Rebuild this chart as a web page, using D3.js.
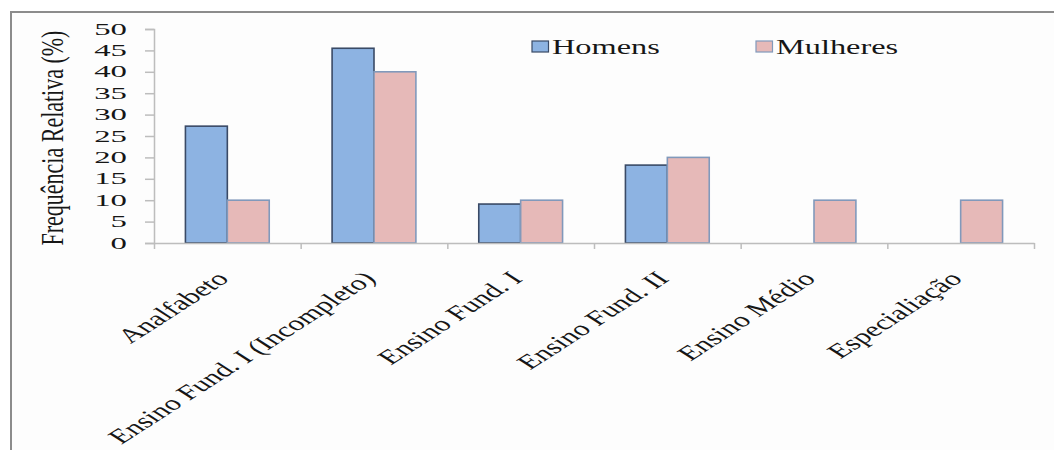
<!DOCTYPE html>
<html>
<head>
<meta charset="utf-8">
<script src="https://cdn.jsdelivr.net/npm/d3@7"></script>
<style>
  html, body { margin: 0; padding: 0; background: #ffffff; }
  svg { display: block; }
  text { font-family: "Liberation Serif", "Times New Roman", serif; fill: #161616; }
</style>
</head>
<body>
<svg id="chart" width="1054" height="450"></svg>
<script>
// Education level by sex, relative frequency (%)
const categories = [
  "Analfabeto",
  "Ensino Fund. I (Incompleto)",
  "Ensino Fund. I",
  "Ensino Fund. II",
  "Ensino Médio",
  "Especialiação"
];
const seriesNames = ["Homens", "Mulheres"];
const homens   = [27.3, 45.5, 9.1, 18.2, 0, 0];
const mulheres = [10, 40, 10, 20, 10, 10];
const yTicks = [0, 5, 10, 15, 20, 25, 30, 35, 40, 45, 50];
const yTitle = "Frequência Relativa (%)";

const fills   = { Homens: "#8db3e2", Mulheres: "#e6b9b8" };
const strokes = { Homens: "#3a4a66", Mulheres: "#8199bb" };

// text in this figure is drawn wider than tall
const SX = 1.47;

const svg = d3.select("#chart");

// frame
svg.append("rect").attr("x", 11).attr("y", 12).attr("width", 1043).attr("height", 438)
  .attr("fill", "#fdfdfd");
svg.append("path").attr("d", "M11,450 V12 H1054")
  .attr("fill", "none").attr("stroke", "#8c8c8c").attr("stroke-width", 2);

const plotL = 154, plotR = 1034, plotT = 29, plotB = 243;

const x0 = d3.scaleBand().domain(categories).range([plotL, plotR]).paddingInner(0).paddingOuter(0);
const groupW = x0.bandwidth() * 2 / 3.5;
const x1 = d3.scaleBand().domain(seriesNames).range([0, groupW]);
const y = d3.scaleLinear().domain([0, 50]).range([plotB, plotT]);

const rows = categories.map((c, i) => ({ cat: c, Homens: homens[i], Mulheres: mulheres[i] }));

// bars
const groups = svg.append("g").selectAll("g").data(rows).join("g")
  .attr("transform", d => `translate(${x0(d.cat) + (x0.bandwidth() - groupW) / 2},0)`);
groups.selectAll("rect")
  .data(d => seriesNames.map(s => ({ s, v: d[s] })).filter(e => e.v > 0))
  .join("rect")
  .attr("x", e => x1(e.s))
  .attr("y", e => y(e.v))
  .attr("width", x1.bandwidth())
  .attr("height", e => y(0) - y(e.v))
  .attr("fill", e => fills[e.s])
  .attr("stroke", e => strokes[e.s])
  .attr("stroke-width", 1.6);

// y axis
const yAxis = svg.append("g").attr("transform", `translate(${plotL},0)`)
  .call(d3.axisLeft(y).tickValues(yTicks).tickSize(9).tickFormat(""));
yAxis.select(".domain").attr("stroke", "#bdbdbd").attr("stroke-width", 1.5);
yAxis.selectAll(".tick line").attr("stroke", "#bdbdbd").attr("stroke-width", 1.5);

svg.append("g").selectAll("text").data(yTicks).join("text")
  .attr("transform", t => `translate(127,${y(t) + 5.5}) scale(2.05,1)`)
  .attr("text-anchor", "end")
  .attr("font-size", 16)
  .text(t => t);

// x axis with tick marks at category edges
const edge = d3.scaleLinear().domain([0, categories.length]).range([plotL, plotR]);
const xAxis = svg.append("g").attr("transform", `translate(0,${plotB})`)
  .call(d3.axisBottom(edge).tickValues(d3.range(categories.length + 1)).tickSize(6).tickSizeOuter(0).tickFormat(""));
xAxis.select(".domain").attr("stroke", "#bdbdbd").attr("stroke-width", 1.5);
xAxis.selectAll(".tick line").attr("stroke", "#bdbdbd").attr("stroke-width", 1.5);

// category labels, rotated
svg.append("g").selectAll("text").data(categories).join("text")
  .attr("transform", c => `translate(${x0(c) + x0.bandwidth() / 2 + 3},280) scale(1.55,1) rotate(-45)`)
  .attr("text-anchor", "end")
  .attr("font-size", 20.5)
  .text(c => c);

// y title
svg.append("text")
  .attr("transform", `translate(63,${(plotT + plotB) / 2 + 2}) scale(${SX},1) rotate(-90)`)
  .attr("text-anchor", "middle")
  .attr("font-size", 22)
  .text(yTitle);

// legend
const legendX = { Homens: 532, Mulheres: 756 };
const leg = svg.append("g").selectAll("g").data(seriesNames).join("g")
  .attr("transform", s => `translate(${legendX[s]},41)`);
leg.append("rect").attr("width", 16.5).attr("height", 11)
  .attr("fill", s => fills[s]).attr("stroke", s => strokes[s]).attr("stroke-width", 1.2);
leg.append("text")
  .attr("transform", `translate(20,12.5) scale(${SX},1)`)
  .attr("font-size", 22)
  .text(s => s);
</script>
</body>
</html>
